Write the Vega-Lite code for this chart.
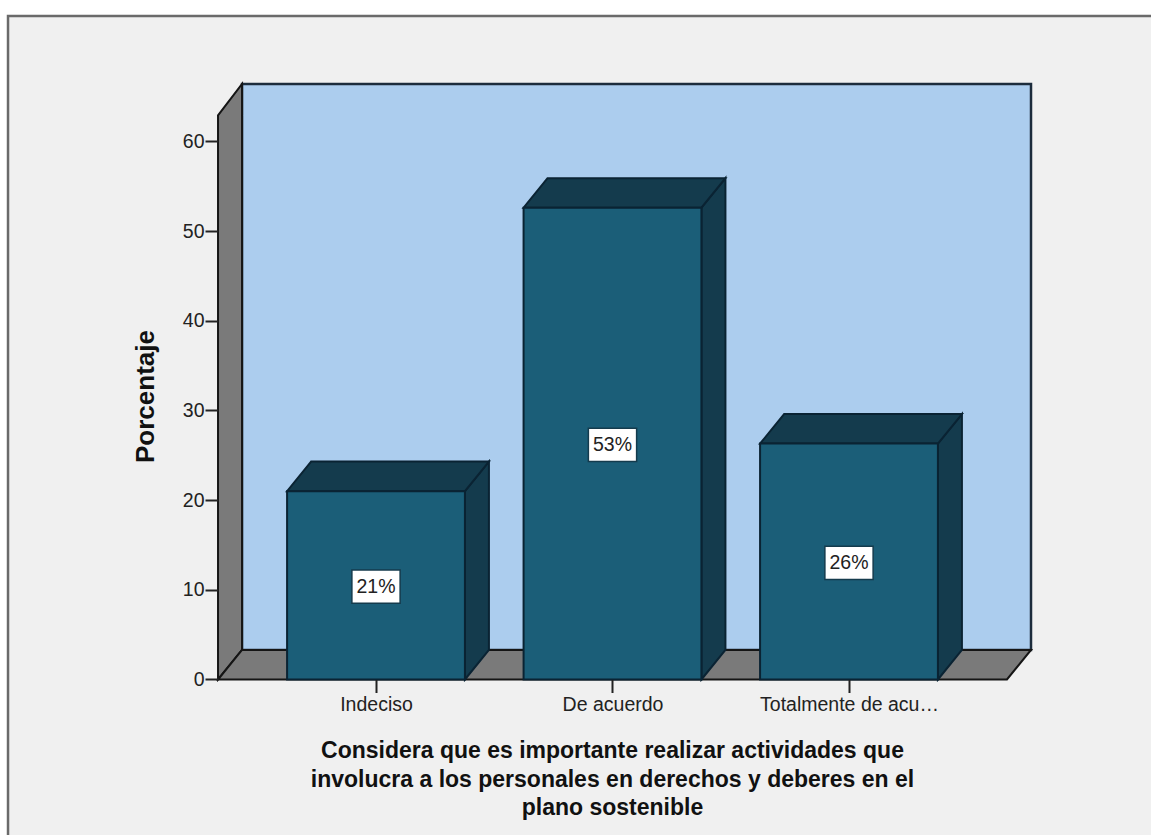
{
"$schema":"https://vega.github.io/schema/vega-lite/v6.json",
"width":1151,"height":835,"autosize":"none","padding":0,"background":"#ffffff",
"config":{"view":{"stroke":null}},
"datasets":{
"respuestas":[
{"categoria":"Indeciso","pos":1,"valor":21,"etiqueta":"21%"},
{"categoria":"De acuerdo","pos":2,"valor":52.6,"etiqueta":"53%"},
{"categoria":"Totalmente de acuerdo","pos":3,"valor":26.3,"etiqueta":"26%"}
],
"paredLateral":[
{"x":0.332,"y":0,"y2":62.9},
{"x":0.4335,"y":3.29,"y2":66.4}
],
"suelo":[
{"y":0,"x":0.332,"x2":3.668},
{"y":3.29,"x":0.4335,"x2":3.7696}
]
},
"layer":[
{"data":{"values":[{}]},"mark":{"type":"rect","fill":"#f0f0f0","stroke":"#6a6a6a","strokeWidth":2.5},
 "encoding":{
  "x":{"datum":-0.556,"type":"quantitative","scale":{"domain":[-0.5899,4.277],"nice":false,"zero":false},
   "axis":{"zindex":1,"values":[1,2,3],"offset":-155.5,"grid":false,"domain":false,"tickSize":13,"tickWidth":2,"tickColor":"#222222","labelFont":"Liberation Sans","labelFontSize":19.5,"labelColor":"#222222","labelPadding":3,"labelExpr":"datum.value==1?'Indeciso':datum.value==2?'De acuerdo':'Totalmente de acuerdo'",
   "title":["Considera que es importante realizar actividades que","involucra a los personales en derechos y deberes en el","plano sostenible"],"titleFont":"Liberation Sans","titleFontWeight":"bold","titleFontSize":23,"titleColor":"#111111","titleLineHeight":28.5,"titleAnchor":"middle","titleX":612,"titleY":78,"titleBaseline":"alphabetic"}},
  "x2":{"datum":4.6},
  "y":{"datum":73.97,"type":"quantitative","scale":{"domain":[-17.336,75.753],"nice":false,"zero":false},
   "axis":{"zindex":1,"values":[0,10,20,30,40,50,60],"offset":-218,"grid":false,"domain":false,"tickSize":13,"tickWidth":2,"tickColor":"#222222","labelFont":"Liberation Sans","labelFontSize":19.5,"labelColor":"#222222","labelPadding":1,
   "title":"Porcentaje","titleFont":"Liberation Sans","titleFontWeight":"bold","titleFontSize":26,"titleColor":"#111111","titleX":-60,"titleY":396,"titleAngle":-90}},
  "y2":{"datum":-20}
 }},
{"data":{"values":[{}]},"mark":{"type":"rect","fill":"#accdee","stroke":"#1c2c3c","strokeWidth":2.5},
 "encoding":{
  "x":{"datum":0.4335,"type":"quantitative","scale":{"domain":[-0.5899,4.277],"nice":false,"zero":false}},
  "x2":{"datum":3.7696},
  "y":{"datum":66.4,"type":"quantitative","scale":{"domain":[-17.336,75.753],"nice":false,"zero":false}},
  "y2":{"datum":3.29}
 }},
{"data":{"name":"paredLateral"},"mark":{"type":"area","orient":"vertical","fill":"#7a7a7a","stroke":"#151515","strokeWidth":2,"opacity":1},
 "encoding":{
  "x":{"field":"x","type":"quantitative","scale":{"domain":[-0.5899,4.277],"nice":false,"zero":false}},
  "y":{"field":"y","type":"quantitative","stack":null,"scale":{"domain":[-17.336,75.753],"nice":false,"zero":false}},
  "y2":{"field":"y2"}
 }},
{"data":{"name":"suelo"},"mark":{"type":"area","orient":"horizontal","fill":"#7a7a7a","stroke":"#151515","strokeWidth":2,"opacity":1},
 "encoding":{
  "y":{"field":"y","type":"quantitative","scale":{"domain":[-17.336,75.753],"nice":false,"zero":false}},
  "x":{"field":"x","type":"quantitative","stack":null,"scale":{"domain":[-0.5899,4.277],"nice":false,"zero":false}},
  "x2":{"field":"x2"}
 }},
{"data":{"name":"respuestas"},
 "transform":[
  {"calculate":"[datum.pos+0.376,datum.pos+0.4775]","as":"xl"},
  {"calculate":"[0,3.29]","as":"yb"},
  {"calculate":"[datum.valor,datum.valor+3.29]","as":"yt"},
  {"flatten":["xl","yb","yt"]}
 ],
 "mark":{"type":"area","orient":"vertical","fill":"#143b4d","stroke":"#0a2333","strokeWidth":2,"opacity":1},
 "encoding":{
  "detail":{"field":"categoria"},
  "x":{"field":"xl","type":"quantitative","scale":{"domain":[-0.5899,4.277],"nice":false,"zero":false}},
  "y":{"field":"yb","type":"quantitative","stack":null,"scale":{"domain":[-17.336,75.753],"nice":false,"zero":false}},
  "y2":{"field":"yt"}
 }},
{"data":{"name":"respuestas"},
 "transform":[
  {"calculate":"[datum.valor,datum.valor+3.29]","as":"yt"},
  {"calculate":"[datum.pos-0.376,datum.pos-0.2745]","as":"xa"},
  {"calculate":"[datum.pos+0.376,datum.pos+0.4775]","as":"xb"},
  {"flatten":["yt","xa","xb"]}
 ],
 "mark":{"type":"area","orient":"horizontal","fill":"#143b4d","stroke":"#0a2333","strokeWidth":2,"opacity":1},
 "encoding":{
  "detail":{"field":"categoria"},
  "y":{"field":"yt","type":"quantitative","scale":{"domain":[-17.336,75.753],"nice":false,"zero":false}},
  "x":{"field":"xa","type":"quantitative","stack":null,"scale":{"domain":[-0.5899,4.277],"nice":false,"zero":false}},
  "x2":{"field":"xb"}
 }},
{"data":{"name":"respuestas"},
 "transform":[
  {"calculate":"datum.pos-0.376","as":"xi"},
  {"calculate":"datum.pos+0.376","as":"xd"}
 ],
 "mark":{"type":"rect","fill":"#1b5e78","stroke":"#0a2333","strokeWidth":2},
 "encoding":{
  "x":{"field":"xi","type":"quantitative","scale":{"domain":[-0.5899,4.277],"nice":false,"zero":false}},
  "x2":{"field":"xd"},
  "y":{"field":"valor","type":"quantitative","scale":{"domain":[-17.336,75.753],"nice":false,"zero":false}},
  "y2":{"datum":0}
 }},
{"data":{"name":"respuestas"},
 "transform":[
  {"calculate":"datum.pos-0.102","as":"xi"},
  {"calculate":"datum.pos+0.102","as":"xd"},
  {"calculate":"datum.valor/2-2","as":"yi"},
  {"calculate":"datum.valor/2+1.7","as":"ys"}
 ],
 "mark":{"type":"rect","fill":"#ffffff","stroke":"#143b4d","strokeWidth":1.5},
 "encoding":{
  "x":{"field":"xi","type":"quantitative","scale":{"domain":[-0.5899,4.277],"nice":false,"zero":false}},
  "x2":{"field":"xd"},
  "y":{"field":"yi","type":"quantitative","scale":{"domain":[-17.336,75.753],"nice":false,"zero":false}},
  "y2":{"field":"ys"}
 }},
{"data":{"name":"respuestas"},
 "transform":[{"calculate":"datum.valor/2-0.15","as":"medio"}],
 "mark":{"type":"text","font":"Liberation Sans","fontSize":19.5,"color":"#222222","align":"center","baseline":"middle"},
 "encoding":{
  "x":{"field":"pos","type":"quantitative","scale":{"domain":[-0.5899,4.277],"nice":false,"zero":false}},
  "y":{"field":"medio","type":"quantitative","scale":{"domain":[-17.336,75.753],"nice":false,"zero":false}},
  "text":{"field":"etiqueta"}
 }}
]
}
